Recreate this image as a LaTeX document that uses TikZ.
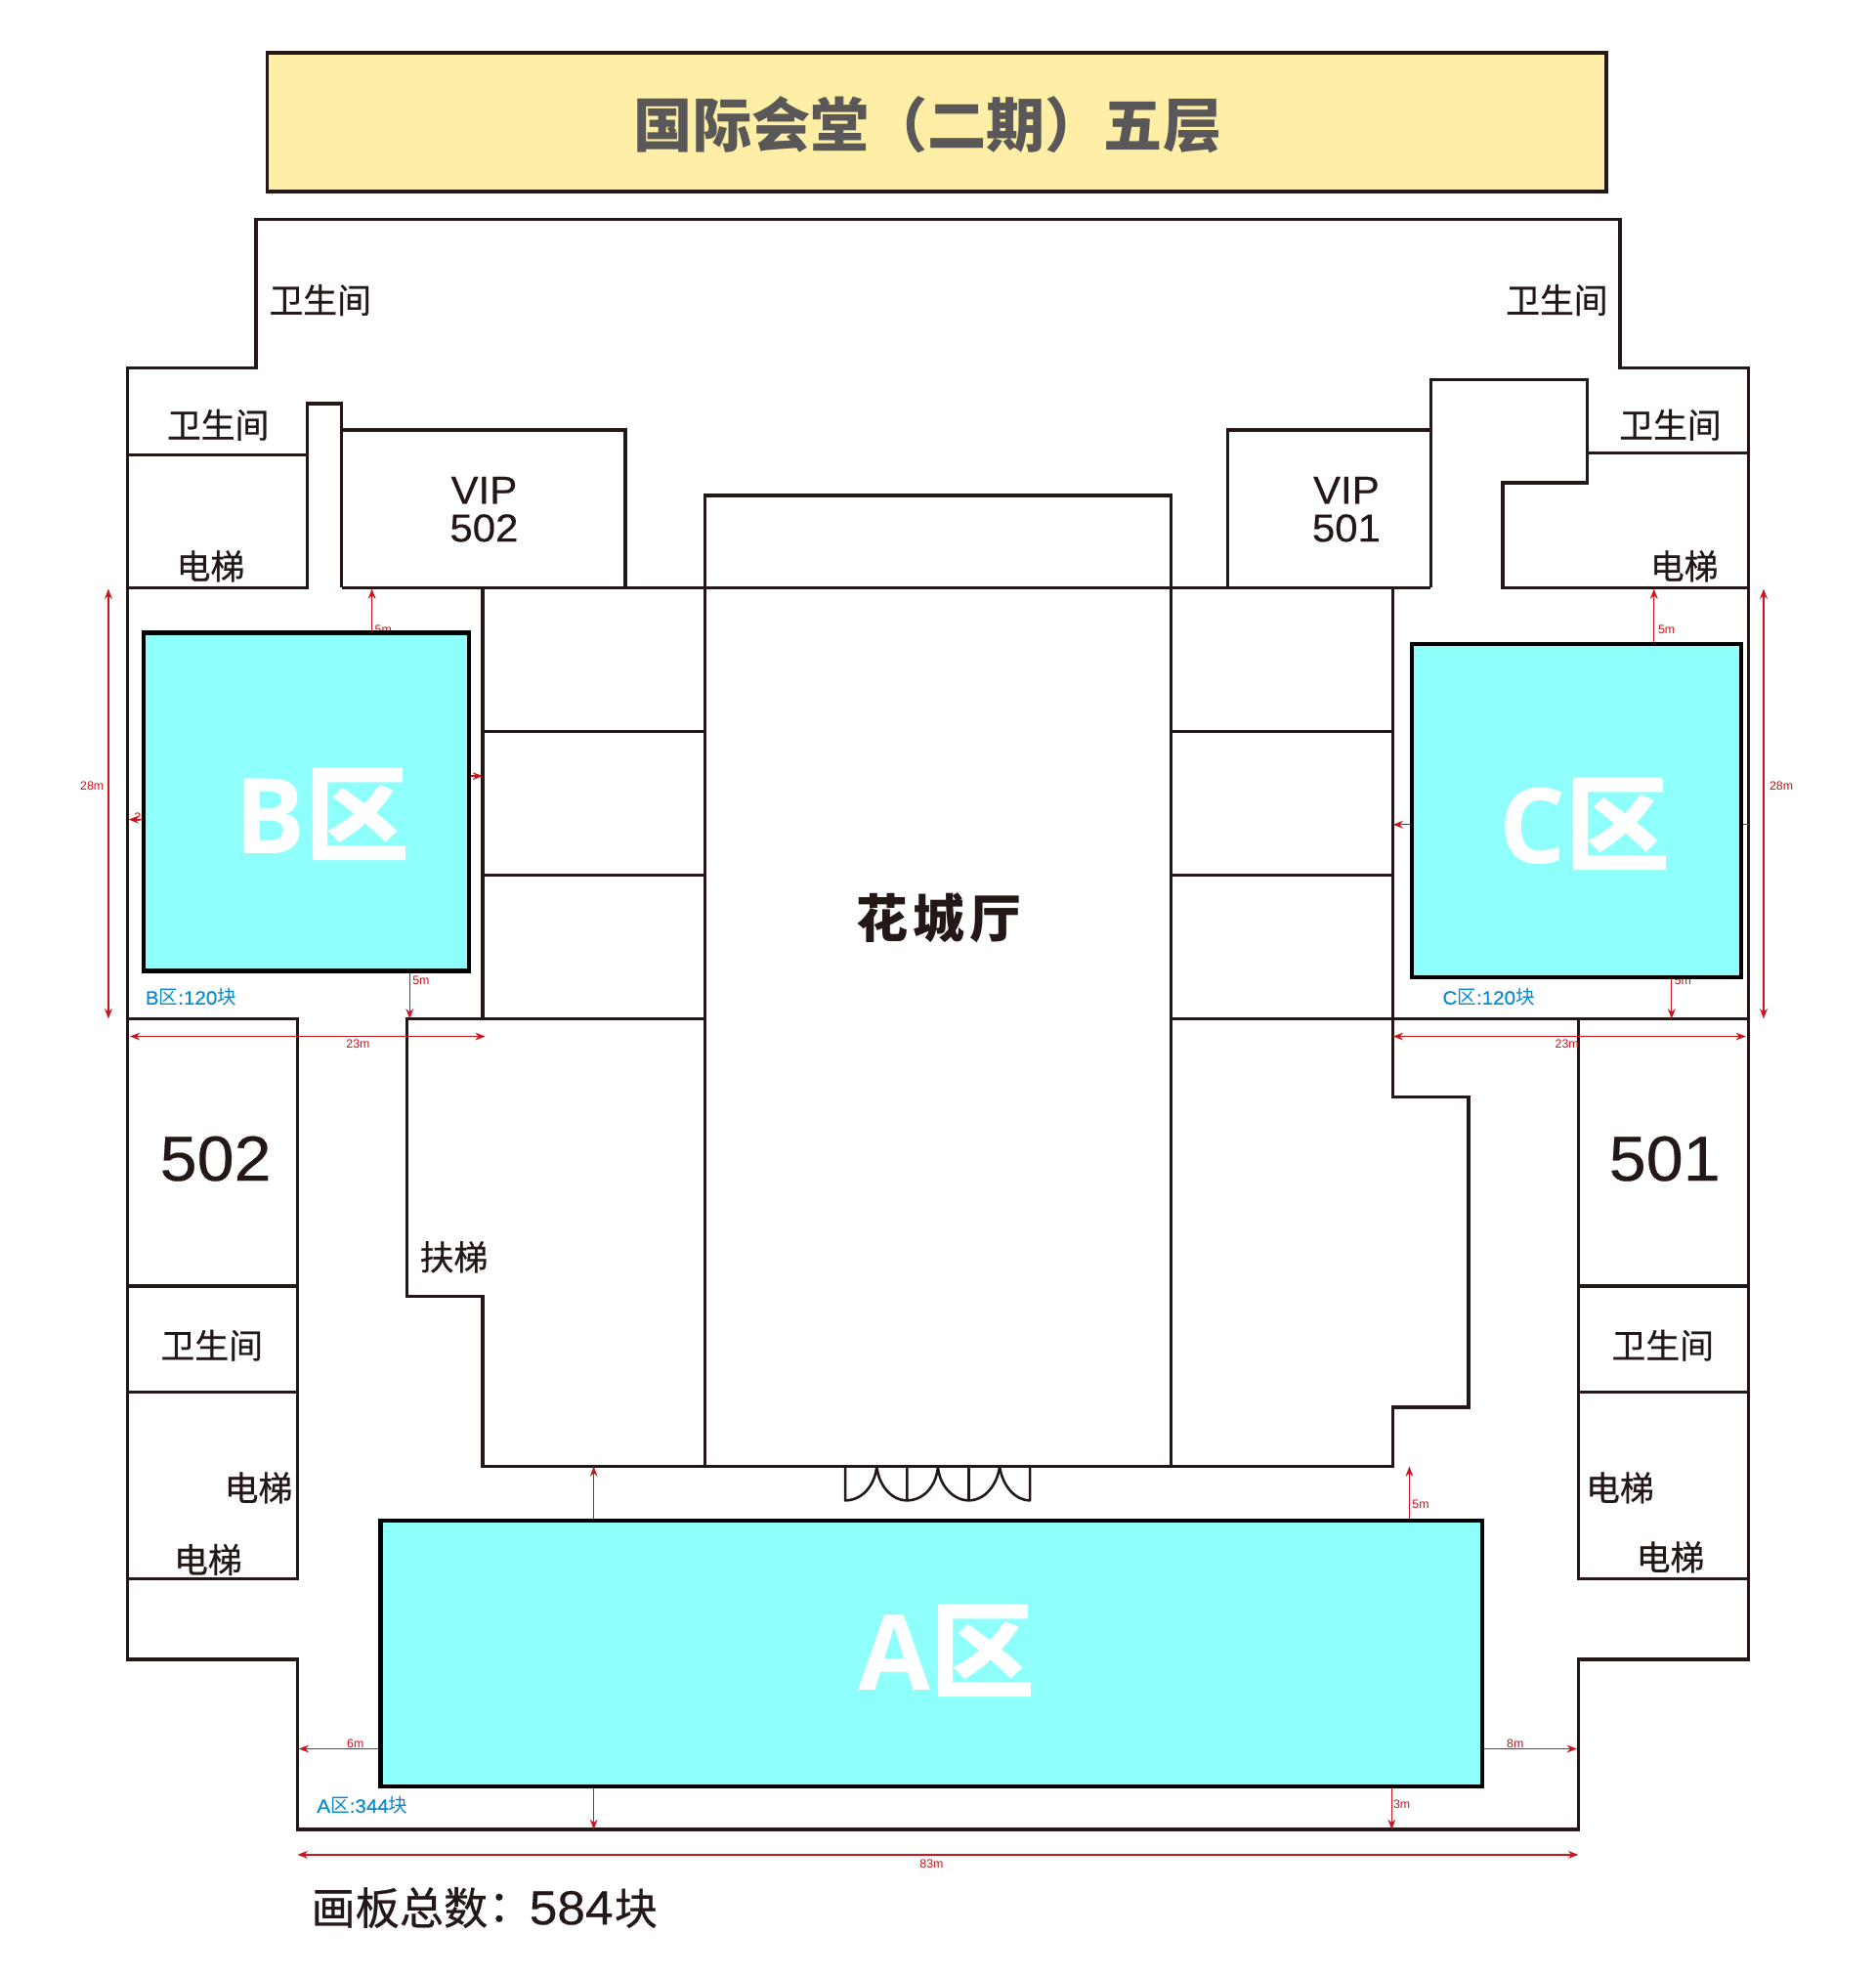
\documentclass[tikz,border=0pt]{standalone}
\usepackage{fontspec}
\setmainfont{Liberation Sans}
\newfontfamily\cjk{Noto Sans CJK SC}
\newfontfamily\cjkm[FakeBold=0.6]{Noto Sans CJK SC}
\newfontfamily\cjkc[FakeBold=0.6]{Noto Sans CJK TC}
\newfontfamily\latm[FakeBold=0.35,FakeStretch=1.05]{Liberation Sans}
\usetikzlibrary{arrows.meta}
\definecolor{wallc}{HTML}{231815}
\definecolor{zonec}{HTML}{8FFFFC}
\definecolor{titlec}{HTML}{FFEFA6}
\definecolor{titletext}{HTML}{595757}
\definecolor{dimc}{HTML}{C9151E}
\definecolor{bluec}{HTML}{0A8BCB}
\tikzset{
  wall/.style={draw=wallc,line width=1.3pt,line join=miter},
  zonebox/.style={draw=black,line width=1.7pt,fill=zonec},
  dimline/.style={draw=dimc,line width=0.5pt,-{Stealth[length=4pt,width=3pt]}},
  dimboth/.style={draw=dimc,line width=0.55pt,{Stealth[length=4pt,width=3pt]}-{Stealth[length=4pt,width=3pt]}},
  dimtext/.style={text=dimc,font=\fontsize{4.8}{5}\selectfont,inner sep=0pt},
  roomtext/.style={text=wallc,font=\cjkm\fontsize{13.5}{14}\selectfont,inner sep=0pt},
  vip/.style={text=wallc,font=\latm\fontsize{15.5}{15}\selectfont,inner sep=0pt,align=center},
  bignum/.style={text=wallc,font=\latm\fontsize{25.2}{28}\selectfont,inner sep=0pt},
  zonetext/.style={text=white,font=\cjk\bfseries\fontsize{41.5}{42}\selectfont,inner sep=0pt},
  counttext/.style={text=bluec,font=\latm\fontsize{7.6}{8}\selectfont,inner sep=0pt,anchor=west},
}
\begin{document}
\begin{tikzpicture}[x=0.5pt,y=-0.5pt]
\useasboundingbox (0,0) rectangle (1488,1568);
\fill[white] (0,0) rectangle (1488,1568);

% title
\draw[wall,fill=titlec,line width=1.4pt] (212,42) rectangle (1274,152);
\node[text=titletext,font=\cjk\bfseries\fontsize{23.3}{25}\selectfont,inner sep=0pt] (title) at (736,99) {国际会堂（二期）五层};

% outer wall
\draw[wall] (203,292) -- (203,174) -- (1285,174) -- (1285,292) -- (1387,292) -- (1387,1316) -- (1252,1316) -- (1252,1451) -- (236,1451) -- (236,1316) -- (101,1316) -- (101,292) -- cycle;

% upper left
\draw[wall] (101,361) -- (244,361);
\draw[wall] (101,466) -- (244,466) -- (244,320) -- (271,320) -- (271,466);
\draw[wall] (271,466) -- (271,341) -- (496,341) -- (496,466);
\draw[wall] (271,466) -- (1135,466);
% centre hall
\draw[wall] (559,1163) -- (559,393) -- (929,393) -- (929,1163);
% upper right
\draw[wall] (974,466) -- (974,341) -- (1135,341);
\draw[wall] (1135,466) -- (1135,301) -- (1259,301) -- (1259,383) -- (1192,383) -- (1192,466) -- (1387,466);
\draw[wall] (1259,359) -- (1387,359);
% side rooms
\draw[wall] (383,466) -- (383,808);
\draw[wall] (383,580) -- (559,580);
\draw[wall] (383,694) -- (559,694);
\draw[wall] (929,580) -- (1105,580);
\draw[wall] (929,694) -- (1105,694);
\draw[wall] (929,808) -- (1387,808);
\draw[wall] (559,808) -- (323,808) -- (323,1028) -- (383,1028) -- (383,1163) -- (1105,1163) -- (1105,1116) -- (1165,1116) -- (1165,870) -- (1105,870) -- (1105,466);
% lower left / right blocks
\draw[wall] (101,808) -- (236,808) -- (236,1252) -- (101,1252);
\draw[wall] (101,1020) -- (236,1020);
\draw[wall] (101,1104) -- (236,1104);
\draw[wall] (1252,808) -- (1252,1252) -- (1387,1252);
\draw[wall] (1252,1020) -- (1387,1020);
\draw[wall] (1252,1104) -- (1387,1104);

% doors
\draw[draw=wallc,line width=1pt,line join=round]
  (670.5,1163) -- (670.5,1190) .. controls (684,1190) and (694,1178) .. (695.5,1163)
  .. controls (697,1178) and (707,1190) .. (719.5,1190) -- (719.5,1163)
  (719.5,1190) .. controls (733,1190) and (743,1178) .. (744,1163)
  .. controls (745,1178) and (756,1190) .. (768.5,1190) -- (768.5,1163)
  (768.5,1190) .. controls (781,1190) and (791,1178) .. (793,1163)
  .. controls (795,1178) and (805,1190) .. (817,1190) -- (817,1163);

% dimensions
\draw[dimboth] (86,467) -- (86,808);
\draw[dimboth] (1399,467) -- (1399,808);
\draw[dimboth] (103,822) -- (385,822);
\draw[dimboth] (1105,822) -- (1385,822);
\draw[dimboth] (236,1471) -- (1252,1471);
\draw[dimline] (295,502) -- (295,467);
\draw[dimline] (325,770) -- (325,808);
\draw[dimline] (372,615.5) -- (383,615.5);
\draw[dimline] (114,650) -- (102,650);
\draw[dimline] (1312,511) -- (1312,467);
\draw[dimline] (1326,775) -- (1326,808);
\draw[dimline] (1120,654) -- (1105,654);
\draw[draw=dimc,line width=0.5pt] (1381,654) -- (1387,654);
\draw[dimline] (471,1206) -- (471,1163);
\draw[dimline] (1118,1206) -- (1118,1163);
\draw[dimline] (302,1387) -- (237,1387);
\draw[dimline] (1176,1387) -- (1251,1387);
\draw[dimline] (471,1417) -- (471,1451);
\draw[dimline] (1104,1417) -- (1104,1451);

\node[dimtext] (d1) at (73,623) {28m};
\node[dimtext] (d2) at (1413,623) {28m};
\node[dimtext] (d3) at (284,828) {23m};
\node[dimtext] (d4) at (1243,828) {23m};
\node[dimtext] (d5) at (304,499) {5m};
\node[dimtext] (d6) at (334,778) {5m};
\node[dimtext,anchor=west] (d7) at (106,648) {2m};
\node[dimtext] (d8) at (1322,499) {5m};
\node[dimtext] (d9) at (1335,778) {5m};
\node[dimtext] (d10) at (1127,1193) {5m};
\node[dimtext] (d11) at (282,1383) {6m};
\node[dimtext] (d12) at (1202,1383) {8m};
\node[dimtext] (d13) at (1112,1431) {3m};
\node[dimtext] (d14) at (739,1478) {83m};

% zones
\node[zonebox,minimum width=129pt,minimum height=134pt,inner sep=0pt] (zb) at (243,636) {};
\node[zonebox,minimum width=130.5pt,minimum height=132pt,inner sep=0pt] (zc) at (1250.5,643) {};
\node[zonebox,minimum width=437pt,minimum height=105.5pt,inner sep=0pt] (za) at (739,1311.5) {};
\node[zonetext] (zbt) at (255.5,646) {{\fontspec{Open Sans}\bfseries B}区};
\node[zonetext] (zct) at (1257,654) {{\fontspec{Open Sans}\bfseries C}区};
\node[zonetext] (zat) at (751,1309) {{\fontspec{Open Sans}\bfseries A}区};

\node[counttext] (cb) at (115,791) {B{\cjk 区}:120{\cjk 块}};
\node[counttext] (cc) at (1144,791) {C{\cjk 区}:120{\cjk 块}};
\node[counttext] (ca) at (251,1432) {A{\cjk 区}:344{\cjk 块}};

% room labels
\node[roomtext] (r1) at (254,238) {卫生间};
\node[roomtext] (r2) at (1235,238) {卫生间};
\node[roomtext] (r3) at (173,337) {卫生间};
\node[roomtext] (r4) at (1325,337) {卫生间};
\node[roomtext] (r5) at (168,1067) {卫生间};
\node[roomtext] (r6) at (1319,1067) {卫生间};
\node[roomtext] (e1) at (167,449) {电梯};
\node[roomtext] (e2) at (1336,449) {电梯};
\node[roomtext] (e3) at (205,1180) {电梯};
\node[roomtext] (e4) at (165,1237) {电梯};
\node[roomtext] (e5) at (1285,1180) {电梯};
\node[roomtext] (e6) at (1325,1235) {电梯};
\node[roomtext] (esc) at (360,997) {扶梯};
\node[vip] (v2) at (384,404) {VIP\\502};
\node[vip] (v1) at (1068,404) {VIP\\501};
\node[bignum] (n2) at (171,919) {502};
\node[bignum] (n1) at (1320.5,919) {501};
\node[text=wallc,font=\cjk\bfseries\fontsize{20.5}{22}\selectfont,inner sep=0pt] (hall) at (744.5,728) {花\hspace{2pt}城\hspace{2pt}厅};
\node[text=wallc,font=\cjkm\fontsize{17.5}{18}\selectfont,inner sep=0pt,anchor=west] (total) at (246.5,1513) {画板总数\hspace{-4.2pt}{\cjkc ：}\hspace{3.2pt}{\latm\fontsize{19}{18}\selectfont 584}\hspace{0.5pt}{\fontsize{17}{18}\selectfont 块}};
\end{tikzpicture}
\end{document}
